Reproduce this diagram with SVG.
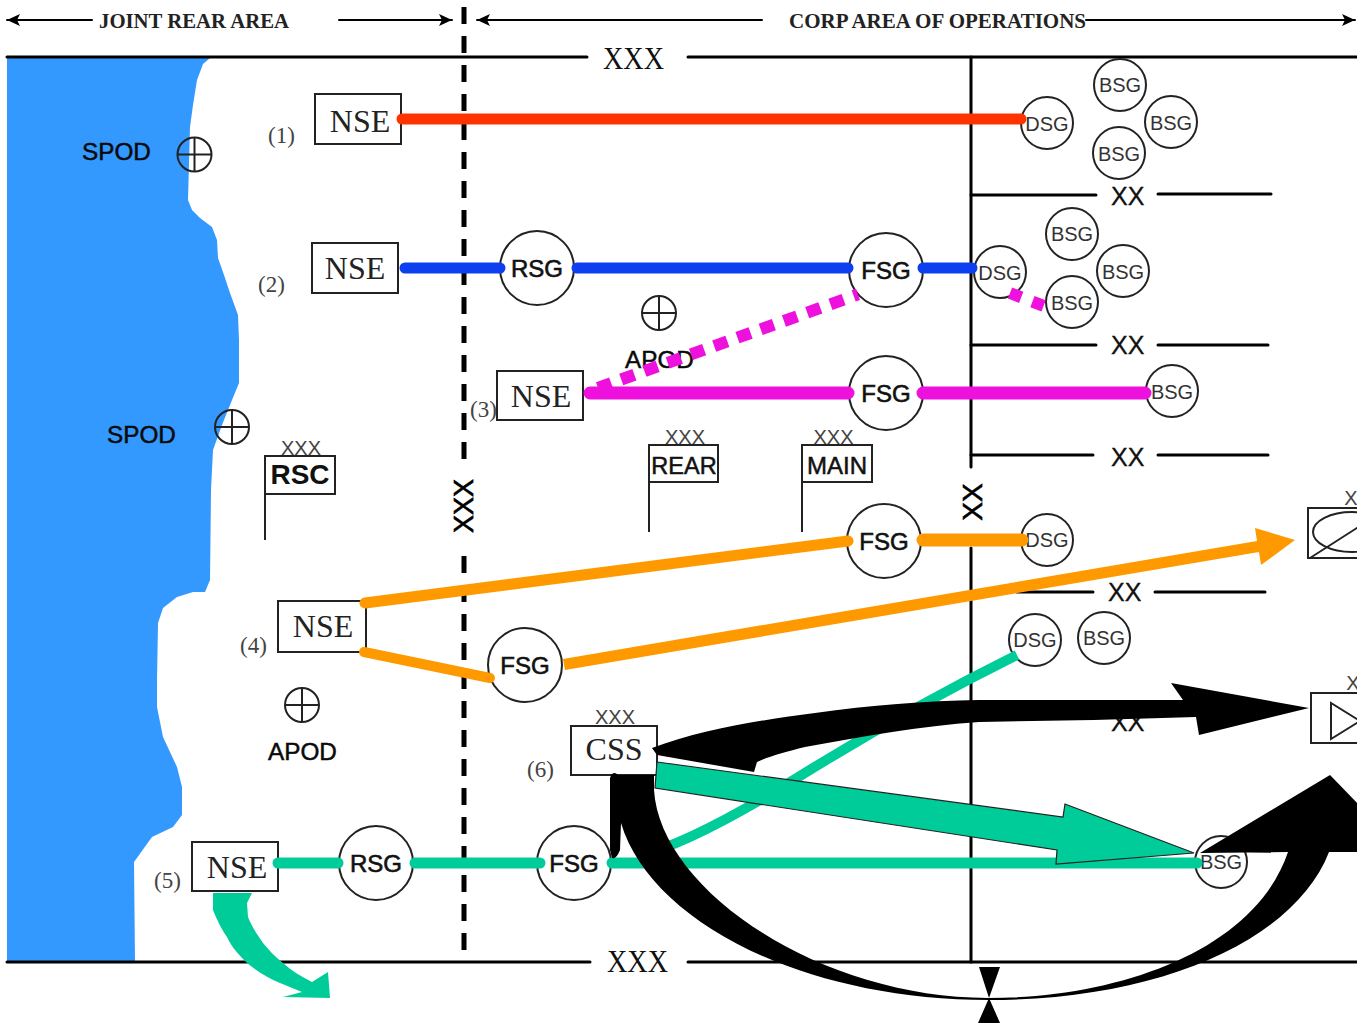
<svg xmlns="http://www.w3.org/2000/svg" width="1361" height="1023" viewBox="0 0 1361 1023">
<defs>
<marker id="ah" markerWidth="14" markerHeight="12" refX="13" refY="6" orient="auto-start-reverse" markerUnits="userSpaceOnUse"><path d="M0,0 L13,6 L0,12 L3,6 Z" fill="#000"/></marker>
</defs>
<style>
.sans{font-family:"Liberation Sans",Arial,sans-serif}
.serif{font-family:"Liberation Serif","Times New Roman",serif}
.ln{stroke:#000;fill:none;stroke-linecap:round}
.box{fill:#fff;stroke:#222;stroke-width:2}
.c{fill:#fff;stroke:#222;stroke-width:2}
.nse{font-family:"Liberation Serif",serif;font-size:32px;fill:#222;text-anchor:middle}
.num{font-family:"Liberation Serif",serif;font-size:23px;fill:#444}
.big{font-family:"Liberation Sans",sans-serif;font-size:24px;fill:#111;stroke:#111;stroke-width:.6;text-anchor:middle}
.small{font-family:"Liberation Sans",sans-serif;font-size:20px;fill:#333;text-anchor:middle}
.xx{font-family:"Liberation Sans",sans-serif;font-size:25px;fill:#111;stroke:#111;stroke-width:.3}
.x3{font-family:"Liberation Sans",sans-serif;font-size:20px;fill:#444;text-anchor:middle}
.pod{font-family:"Liberation Sans",sans-serif;font-size:24.3px;fill:#0a0a0a;stroke:#0a0a0a;stroke-width:.5}
.flag{font-family:"Liberation Sans",sans-serif;fill:#111;text-anchor:middle}
.thin{stroke:#222;stroke-width:2;fill:none}
.conn{fill:none;stroke-linecap:round}
</style>
<path id="sea" fill="#3399ff" d="M7,58 L210,58 L203,64 L197,80 L193,105 L190,127 L188,200 L192,210 L200,218 L212,227 L217,240 L218,258 L224,275 L230,293 L238,315 L239,340 L239,383 L232,400 L222,425 L213,450 L211,490 L210,580 L205,592 L193,592 L177,597 L163,608 L158,623 L157,680 L157,707 L163,737 L177,767 L182,787 L182,815 L173,827 L152,837 L134,862 L135,962 L7,962 Z"/>
<g id="boundaries">
<path class="ln" stroke-width="3" d="M7,57 H587 M688,57 H1357 M7,962 H590 M688,962 H1357"/>
<path class="ln" stroke-width="3" d="M971,57 V467 M971,548 V962"/>
<path class="ln" stroke-width="3" d="M971,195 H1096 M1158,194 H1271 M971,345 H1096 M1158,345 H1268 M971,455 H1093 M1158,455 H1268 M1017,592 H1093 M1155,592 H1265"/>
<path d="M464,7 V460 M464,556 V950" stroke="#000" stroke-width="5" fill="none" stroke-dasharray="17 12"/>
<path d="M92,20 H7" class="ln" stroke-width="2" marker-end="url(#ah)"/>
<path d="M339,20 H452" class="ln" stroke-width="2" marker-end="url(#ah)"/>
<path d="M762,20 H477" class="ln" stroke-width="2" marker-end="url(#ah)"/>
<path d="M1086,20 H1355" class="ln" stroke-width="2" marker-end="url(#ah)"/>
<text class="serif" x="99" y="28" font-size="20" font-weight="bold" fill="#222" textLength="190" lengthAdjust="spacingAndGlyphs">JOINT REAR AREA</text>
<text class="serif" x="789" y="28" font-size="20" font-weight="bold" fill="#222" textLength="297" lengthAdjust="spacingAndGlyphs">CORP AREA OF OPERATIONS</text>
<text class="serif" x="603" y="69" font-size="31" fill="#111" textLength="61" lengthAdjust="spacingAndGlyphs">XXX</text>
<text class="serif" x="607" y="972" font-size="31" fill="#111" textLength="61" lengthAdjust="spacingAndGlyphs">XXX</text>
<text class="sans" font-size="27" fill="#000" text-anchor="middle" stroke="#000" stroke-width=".7" transform="translate(473,506) rotate(-90)">XXX</text>
<text class="sans" font-size="28" fill="#000" text-anchor="middle" stroke="#000" stroke-width=".6" transform="translate(982,502) rotate(-90)">XX</text>
<text class="xx" x="1111" y="205">XX</text>
<text class="xx" x="1111" y="354">XX</text>
<text class="xx" x="1111" y="466">XX</text>
<text class="xx" x="1108" y="601">XX</text>
<text class="xx" x="1111" y="731">XX</text>
</g>
<g id="spod1"><text class="pod" x="82" y="160">SPOD</text><circle cx="194.5" cy="154.5" r="17" class="thin"/><path class="thin" d="M177.500,154.500 H211.500 M194.500,137.500 V171.500"/></g>
<g id="spod2"><text class="pod" x="107" y="443">SPOD</text><circle cx="232" cy="427" r="17" class="thin"/><path class="thin" d="M215,427 H249 M232,410 V444"/></g>
<g id="apod1"><text class="pod" x="625" y="368">APOD</text><circle cx="659" cy="313" r="17" class="thin"/><path class="thin" d="M642,313 H676 M659,296 V330"/></g>
<g id="apod2"><text class="pod" x="268" y="760">APOD</text><circle cx="302" cy="705" r="17" class="thin"/><path class="thin" d="M285,705 H319 M302,688 V722"/></g>
<g id="nse1"><rect class="box" x="315" y="94" width="86" height="50"/><text class="nse" x="360" y="132">NSE</text><text class="num" x="268" y="143">(1)</text></g>
<g id="nse2"><rect class="box" x="312" y="243" width="86" height="50"/><text class="nse" x="355" y="279">NSE</text><text class="num" x="258" y="292">(2)</text></g>
<g id="nse3"><rect class="box" x="497" y="371" width="86" height="49"/><text class="nse" x="541" y="407">NSE</text><text class="num" x="470" y="417">(3)</text></g>
<g id="nse4"><rect class="box" x="278" y="601" width="88" height="51"/><text class="nse" x="323" y="637">NSE</text><text class="num" x="240" y="653">(4)</text></g>
<g id="nse5"><rect class="box" x="192" y="842" width="86" height="49"/><text class="nse" x="237" y="878">NSE</text><text class="num" x="154" y="888">(5)</text></g>
<g id="css"><text class="x3" x="615" y="724">XXX</text><rect class="box" x="571" y="726" width="86" height="49"/><text class="nse" x="614" y="760">CSS</text><text class="num" x="527" y="777">(6)</text></g>
<g id="rsc"><text class="x3" x="301" y="455">XXX</text><path class="thin" d="M265,456 V540"/><rect class="box" x="265" y="456" width="70" height="38"/><text class="flag" x="300" y="484" font-size="28" font-weight="bold">RSC</text></g>
<g id="rear"><text class="x3" x="685" y="444">XXX</text><path class="thin" d="M649,445 V532"/><rect class="box" x="649" y="445" width="69" height="37"/><text class="flag" x="684" y="474" font-size="23.500" stroke="#111" stroke-width=".5">REAR</text></g>
<g id="main"><text class="x3" x="833.500" y="444">XXX</text><path class="thin" d="M802,445 V532"/><rect class="box" x="802" y="445" width="70" height="37"/><text class="flag" x="837" y="474" font-size="24" stroke="#111" stroke-width=".5">MAIN</text></g>
<g id="rsg1"><circle class="c" cx="537" cy="268" r="37"/><text class="big" x="537" y="277">RSG</text></g>
<g id="fsg1"><circle class="c" cx="886" cy="270" r="37"/><text class="big" x="886" y="279">FSG</text></g>
<g id="fsg2"><circle class="c" cx="886" cy="393" r="37"/><text class="big" x="886" y="402">FSG</text></g>
<g id="fsg3"><circle class="c" cx="884" cy="541" r="37"/><text class="big" x="884" y="550">FSG</text></g>
<g id="fsg4"><circle class="c" cx="525" cy="665" r="37"/><text class="big" x="525" y="674">FSG</text></g>
<g id="rsg2"><circle class="c" cx="376" cy="863" r="37"/><text class="big" x="376" y="872">RSG</text></g>
<g id="fsg5"><circle class="c" cx="574" cy="863" r="37"/><text class="big" x="574" y="872">FSG</text></g>
<g id="bsg1"><circle class="c" cx="1120" cy="85" r="26"/><text class="small" x="1120" y="92">BSG</text></g>
<g id="bsg2"><circle class="c" cx="1171" cy="122" r="26"/><text class="small" x="1171" y="130">BSG</text></g>
<g id="bsg3"><circle class="c" cx="1119" cy="153" r="26"/><text class="small" x="1119" y="161">BSG</text></g>
<g id="dsg1"><circle class="c" cx="1047" cy="123" r="26"/><text class="small" x="1047" y="131">DSG</text></g>
<g id="bsg4"><circle class="c" cx="1072" cy="234" r="26"/><text class="small" x="1072" y="241">BSG</text></g>
<g id="bsg5"><circle class="c" cx="1123" cy="271" r="26"/><text class="small" x="1123" y="279">BSG</text></g>
<g id="bsg6"><circle class="c" cx="1072" cy="302" r="26"/><text class="small" x="1072" y="310">BSG</text></g>
<g id="dsg2"><circle class="c" cx="1000" cy="272" r="26"/><text class="small" x="1000" y="280">DSG</text></g>
<g id="bsg7"><circle class="c" cx="1172" cy="391" r="26"/><text class="small" x="1172" y="399">BSG</text></g>
<g id="dsg3"><circle class="c" cx="1047" cy="540" r="26"/><text class="small" x="1047" y="547">DSG</text></g>
<g id="dsg4"><circle class="c" cx="1035" cy="640" r="26"/><text class="small" x="1035" y="647">DSG</text></g>
<g id="bsg8"><circle class="c" cx="1104" cy="638" r="26"/><text class="small" x="1104" y="645">BSG</text></g>
<g id="bsg9"><circle class="c" cx="1221" cy="862" r="26"/><text class="small" x="1221" y="869">BSG</text></g>
<g id="unit-a"><rect class="box" x="1308" y="508" width="60" height="50"/><path class="thin" d="M1310,558 L1360,526"/><ellipse cx="1352" cy="532" rx="39" ry="20" class="thin"/><text class="x3" x="1351" y="505">X</text></g>
<g id="unit-b"><rect class="box" x="1311" y="693" width="60" height="50"/><path class="thin" d="M1331,703 V739 L1360,721 Z"/><text class="x3" x="1353" y="690">X</text></g>
<g id="connectors">
<path class="conn" stroke="#ff3300" stroke-width="11" d="M402,119 H1021"/>
<path class="conn" stroke="#0d3ff0" stroke-width="11" d="M405,268 H500 M577,268 H848 M923,268 H972"/>
<path class="conn" stroke="#ee11dd" stroke-width="13" d="M590,393 H848 M923,393 H1145"/>
<path fill="none" stroke="#ee11dd" stroke-width="12" stroke-dasharray="14 10.700" stroke-dashoffset="9.400" d="M858,294.400 L592,390"/>
<path fill="none" stroke="#ee11dd" stroke-width="12" stroke-dasharray="12 12" d="M1010,293 L1044,306"/>
<path class="conn" stroke="#ff9900" stroke-width="11" d="M365,603 L848,541"/>
<path class="conn" stroke="#ff9900" stroke-width="13" d="M923,540 H1022"/>
<path class="conn" stroke="#ff9900" stroke-width="10" d="M364,652 L490,678"/>
<path fill="#ff9900" d="M563,659 L1257,541 L1255,528 L1295,540 L1261,565 L1259,552 L565,670 Z"/>
<path class="conn" stroke="#00cc99" stroke-width="11" d="M278,863 H338 M415,863 H540 M612,863 H1197"/>
<path fill="none" stroke="#00cc99" stroke-width="10" d="M1017,655 Q910,708 800,776 T640,855"/>
<path fill="#00cc99" d="M213,893 L213,910 C217,920 222,930 227,937 C232,948 240,956 247,963 C258,972 268,978 280,983 L302,992 L283,997 L330,998 L328,972 L312,982 C302,977 292,971 283,963 C275,957 269,950 263,943 C256,933 251,925 248,917 L247,903 L252,893 Z"/>
<path fill="#000" d="M652,748 C700,730 760,720 815,713 C870,705 925,701 979,700 L1183,700 L1171,683 L1309,708 L1199,735 L1196,717 L1094,720 L979,722 C920,726 860,737 805,747 C785,752 770,756 757,762 L754,772 L657,755 Z"/>
<path fill="#000" d="M610,778 Q613,770 618,775 L654,775 L654,790 C660,890 820,998 988,998 C1120,998 1255,950 1288,852 L1200,853 L1330,775 L1361,807 L1361,852 L1329,852 C1295,940 1160,1000 989,1000 C800,1000 650,920 621,823 L620,850 Q616,860 612,858 L610,850 Z"/>
<path fill="#00cc99" stroke="#222" stroke-width="1.200" d="M657,762 L1063,817 L1065,804 L1194,853 L1056,864 L1057,850 L655,788 Z"/>
<path fill="#000" d="M979,967 H1000 L989,998 Z M989,998 L1000,1023 H978 Z"/>
</g>
<rect x="1357" y="0" width="4" height="1023" fill="#fff"/>
</svg>
